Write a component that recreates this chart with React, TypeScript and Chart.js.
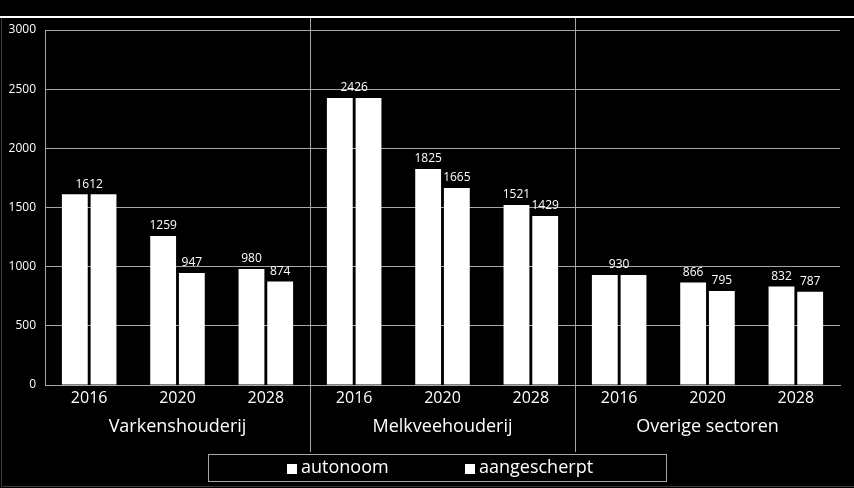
import React, { useEffect, useRef } from 'react';
import { Chart, registerables } from 'chart.js';

Chart.register(...registerables);

const years = ['2016', '2020', '2028', '2016', '2020', '2028', '2016', '2020', '2028'];
const sectors = ['Varkenshouderij', 'Melkveehouderij', 'Overige sectoren'];
const seriesNames = ['autonoom', 'aangescherpt'];
const autonoom = [1612, 1259, 980, 2426, 1825, 1521, 930, 866, 832];
const aangescherpt = [1612, 947, 874, 2426, 1665, 1429, 930, 795, 787];
const yMax = 3000;
const yStep = 500;

const FONT = '"Open Sans", "DejaVu Sans", sans-serif';
const GRID = '#a6a6a6';

const overlay = {
  id: 'overlay',
  afterDraw(chart: any) {
    const ctx = chart.ctx as CanvasRenderingContext2D;
    const xs = chart.scales.x;
    ctx.save();
    // top frame line
    ctx.strokeStyle = '#ffffff';
    ctx.lineWidth = 2;
    ctx.beginPath();
    ctx.moveTo(0, 17);
    ctx.lineTo(chart.width, 17);
    ctx.stroke();
    // faint outer frame
    ctx.strokeStyle = '#3a3a3a';
    ctx.lineWidth = 1;
    ctx.beginPath();
    ctx.moveTo(1.5, 18);
    ctx.lineTo(1.5, 486.5);
    ctx.lineTo(chart.width, 486.5);
    ctx.stroke();

    // group separators
    ctx.strokeStyle = GRID;
    ctx.lineWidth = 1;
    [3, 6].forEach((i) => {
      const x = Math.round((xs.getPixelForValue(i - 1) + xs.getPixelForValue(i)) / 2) + 0.5;
      ctx.beginPath();
      ctx.moveTo(x, 18);
      ctx.lineTo(x, 452);
      ctx.stroke();
    });

    // group labels
    ctx.fillStyle = '#ffffff';
    ctx.font = `18px ${FONT}`;
    ctx.textAlign = 'center';
    ctx.textBaseline = 'middle';
    sectors.forEach((s, g) => {
      const x = xs.getPixelForValue(g * 3 + 1);
      ctx.fillText(s, x, 427);
    });

    // data labels
    ctx.font = `12px ${FONT}`;
    ctx.textBaseline = 'bottom';
    const m0 = chart.getDatasetMeta(0).data;
    const m1 = chart.getDatasetMeta(1).data;
    for (let i = 0; i < autonoom.length; i++) {
      const a = m0[i];
      const b = m1[i];
      if (autonoom[i] === aangescherpt[i]) {
        ctx.fillText(String(autonoom[i]), (a.x + b.x) / 2, Math.min(a.y, b.y) - 4);
      } else {
        ctx.fillText(String(autonoom[i]), a.x, a.y - 4);
        ctx.fillText(String(aangescherpt[i]), b.x, b.y - 4);
      }
    }

    // legend
    ctx.strokeStyle = GRID;
    ctx.lineWidth = 1;
    ctx.strokeRect(208.5, 454.5, 458, 27);
    ctx.font = `18px ${FONT}`;
    ctx.textAlign = 'left';
    ctx.textBaseline = 'middle';
    const items = [287, 465];
    seriesNames.forEach((n, k) => {
      const x = items[k];
      ctx.fillStyle = '#ffffff';
      ctx.fillRect(x, 464, 10, 10);
      ctx.fillText(n, x + 14, 468);
    });
    ctx.restore();
  },
};

export default function App() {
  const ref = useRef<HTMLCanvasElement | null>(null);
  useEffect(() => {
    document.body.style.margin = '0';
    document.body.style.background = '#000';
    const chart = new Chart(ref.current as HTMLCanvasElement, {
      type: 'bar',
      data: {
        labels: years,
        datasets: [
          {
            label: seriesNames[0],
            data: autonoom,
            backgroundColor: '#ffffff',
            categoryPercentage: 0.65,
            barPercentage: 0.9,
          },
          {
            label: seriesNames[1],
            data: aangescherpt,
            backgroundColor: '#ffffff',
            categoryPercentage: 0.65,
            barPercentage: 0.9,
          },
        ],
      },
      options: {
        responsive: false,
        animation: false,
        devicePixelRatio: 1,
        layout: { padding: { top: 30, right: 14, left: 0, bottom: 0 } },
        plugins: { legend: { display: false }, tooltip: { enabled: false } },
        scales: {
          x: {
            grid: { display: false, drawTicks: false },
            border: { display: true, color: GRID, width: 1 },
            ticks: { color: '#ffffff', font: { size: 16, family: FONT }, padding: 4, maxRotation: 0, autoSkip: false },
            afterFit: (s: any) => {
              s.height = 103;
            },
          },
          y: {
            min: 0,
            max: yMax,
            ticks: {
              stepSize: yStep,
              color: '#ffffff',
              font: { size: 12, family: FONT },
              padding: 9,
              callback: (v: any) => String(v),
            },
            grid: { color: GRID, drawTicks: false, lineWidth: 1 },
            border: { display: true, color: GRID, width: 1 },
            afterFit: (s: any) => {
              s.width = 45;
            },
          },
        },
      },
      plugins: [overlay],
    });
    return () => chart.destroy();
  }, []);
  return (
    <div style={{ position: 'fixed', left: 0, top: 0, width: 854, height: 488, background: '#000' }}>
      <canvas ref={ref} width={854} height={488} style={{ display: 'block' }} />
    </div>
  );
}
